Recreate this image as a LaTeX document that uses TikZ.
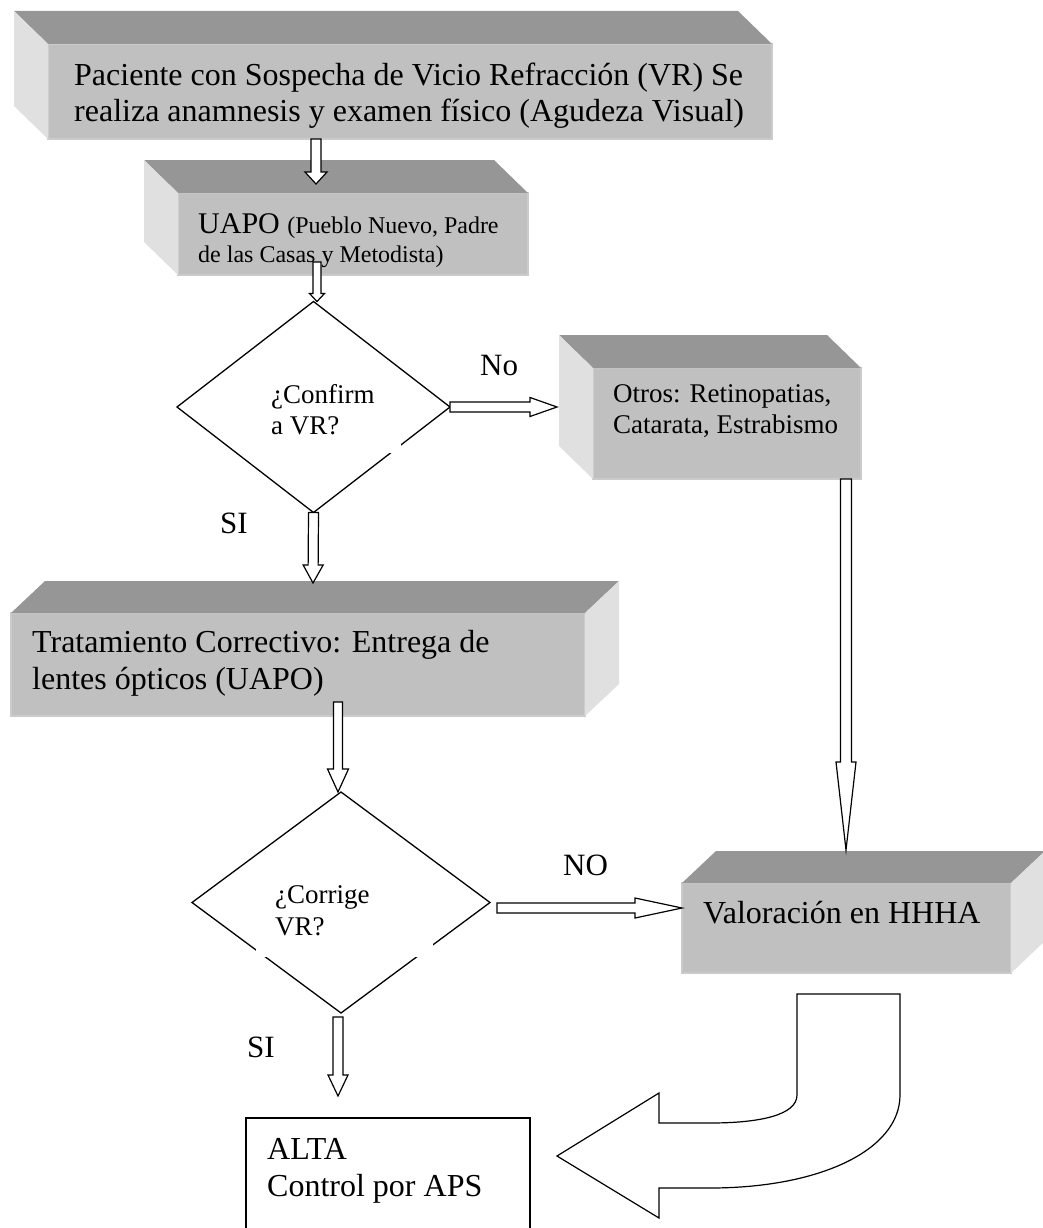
\documentclass[tikz,border=0pt]{standalone}
\usepackage{fontspec}
\setmainfont{Liberation Serif}
\usetikzlibrary{shapes.geometric,calc}

\definecolor{grisfrente}{HTML}{C0C0C0}
\definecolor{gristapa}{HTML}{969696}
\definecolor{grislado}{HTML}{E0E0E0}
\definecolor{grisborde}{HTML}{CBCBCB}

\tikzset{
	caja/.style={fill=grisfrente, draw=grisborde, line width=1.2pt, anchor=north west, inner sep=0pt, outer sep=0pt},
	texto/.style={anchor=north west, inner sep=0pt, align=left},
	decision/.style={diamond, draw, line width=1.3pt, inner sep=0pt, outer sep=0pt},
	etiqueta/.style={anchor=base west, inner sep=0pt, font=\fontsize{31}{31}\selectfont},
	flecha/.style={draw=black, fill=white, line width=1.2pt, line join=miter},
	bloque/.style n args={3}{to path={
		let \p1=(\tikztostart), \p2=(\tikztotarget),
		\n1={atan2(\y2-\y1,\x2-\x1)}, \n2={veclen(\x2-\x1,\y2-\y1)} in
		([shift={(\p1)},rotate=\n1]0pt,-#1pt) -- ([shift={(\p1)},rotate=\n1]\n2-#3pt,-#1pt)
		-- ([shift={(\p1)},rotate=\n1]\n2-#3pt,-#2pt) -- ([shift={(\p1)},rotate=\n1]\n2,0pt)
		-- ([shift={(\p1)},rotate=\n1]\n2-#3pt,#2pt) -- ([shift={(\p1)},rotate=\n1]\n2-#3pt,#1pt)
		-- ([shift={(\p1)},rotate=\n1]0pt,#1pt) -- cycle}}
}

% caras de las cajas 3D
\newcommand{\caraizq}[1]{
	\fill[gristapa] (#1.north west) -- ([shift={(-34,-33)}]#1.north west) -- ([shift={(-34,-33)}]#1.north east) -- (#1.north east) -- cycle;
	\fill[grislado] (#1.north west) -- ([shift={(-34,-33)}]#1.north west) -- ([shift={(-34,-33)}]#1.south west) -- (#1.south west) -- cycle;
}
\newcommand{\carader}[1]{
	\fill[gristapa] (#1.north west) -- ([shift={(34,-32)}]#1.north west) -- ([shift={(34,-32)}]#1.north east) -- (#1.north east) -- cycle;
	\fill[grislado] (#1.north east) -- ([shift={(34,-32)}]#1.north east) -- ([shift={(34,-32)}]#1.south east) -- (#1.south east) -- cycle;
}

\begin{document}
\begin{tikzpicture}[x=1pt, y=-1pt]
			\useasboundingbox (0,0) rectangle (1043,1228);
			\clip (0,0) rectangle (1043,1228);
			
			\node[caja, minimum width=724, minimum height=95] (paciente) at (48,44) {};
			\caraizq{paciente}
			\node[caja, minimum width=350, minimum height=82] (uapo) at (178,193) {};
			\caraizq{uapo}
			\node[caja, minimum width=268, minimum height=111] (otros) at (593,368) {};
			\caraizq{otros}
			\node[caja, minimum width=574, minimum height=103] (trat) at (11,613) {};
			\carader{trat}
			\node[caja, minimum width=329, minimum height=90] (valor) at (682,883) {};
			\carader{valor}
			\node[draw, line width=1.5pt, anchor=north west, inner sep=0pt, outer sep=0pt, minimum width=284, minimum height=200] (alta) at (246,1118) {};
			
			\node[decision, minimum width=273, minimum height=211] (conf) at (313.5,407) {};
			\node[decision, minimum width=298, minimum height=221] (corr) at (341,902.5) {};
			\fill[white] (260,375) rectangle (401,453);
			\fill[white] (256,870) rectangle (433,957);
			
			\node[texto, font=\fontsize{32}{36}\selectfont] (tpaciente) at (74,63) {Paciente con Sospecha de Vicio Refracción (VR) Se\\realiza anamnesis y examen físico (Agudeza Visual)};
			\node[texto, font=\fontsize{24}{29}\selectfont] (tuapo) at (198,213) {{\fontsize{30}{29}\selectfont UAPO }(Pueblo Nuevo, Padre\\de las Casas y Metodista)};
			\node[texto, font=\fontsize{27}{31}\selectfont] (totros) at (613,384.5) {Otros: Retinopatias,\\Catarata, Estrabismo};
			\node[texto, font=\fontsize{32}{37}\selectfont] (ttrat) at (32,630) {Tratamiento Correctivo: Entrega de\\lentes ópticos (UAPO)};
			\node[texto, font=\fontsize{32}{37}\selectfont] (tvalor) at (703,901) {Valoración en HHHA};
			\node[texto, font=\fontsize{32}{37}\selectfont] (talta) at (267,1138) {ALTA\\Control por APS};
			\node[texto, font=\fontsize{27}{31}\selectfont] (tconf) at (271,384) {¿Confirm\\a VR?};
			\node[texto, font=\fontsize{27}{32}\selectfont] (tcorr) at (275,885) {¿Corrige\\VR?};
			
			\node[etiqueta] (lno) at (480,375) {No};
			\node[etiqueta] (lsi) at (220,533) {SI};
			\node[etiqueta] (lnodos) at (563,875) {NO};
			\node[etiqueta] (lsidos) at (247,1057) {SI};
			
			\coordinate (fin1) at (316,184);
			\coordinate (ini2) at (317,262);
			\coordinate (fin3) at (557,407);
			\coordinate (fin4) at (313,583);
			\coordinate (fin5) at (846,850);
			\coordinate (ini6) at (338,702);
			\coordinate (ini7) at (497,908);
			\coordinate (ini8) at (338,1017);
			\coordinate (fin8) at (338,1096);
			
			\draw[flecha] (316,0 |- paciente.south) to[bloque={5}{11}{12}] (fin1);
			\draw[flecha] (ini2) to[bloque={4}{7.5}{8}] (317,0 |- conf.north);
			\draw[flecha] (conf.east) to[bloque={5}{9.5}{27}] (fin3);
			\draw[flecha] (conf.south) to[bloque={5}{10}{18}] (fin4);
			\draw[flecha] (846,0 |- otros.south) to[bloque={5.5}{10}{88}] (fin5);
			\draw[flecha] (ini6) to[bloque={4.5}{10.5}{23}] (338,0 |- corr.north);
			\draw[flecha] (ini7) to[bloque={5}{10}{47}] (valor.west |- ini7);
			\draw[flecha] (ini8) to[bloque={5}{10}{21}] (fin8);
			
			% vuelta hacia el alta
			\draw[flecha] (797,994) -- (900,994) -- (900,1095) .. controls (900,1150) and (820,1188) .. (710,1188)
				-- (659,1188) -- (659,1218) -- (557,1156) -- (659,1093) -- (659,1123) -- (710,1123)
				.. controls (760,1123) and (797,1115) .. (797,1095) -- cycle;
		\end{tikzpicture}
\end{document}
